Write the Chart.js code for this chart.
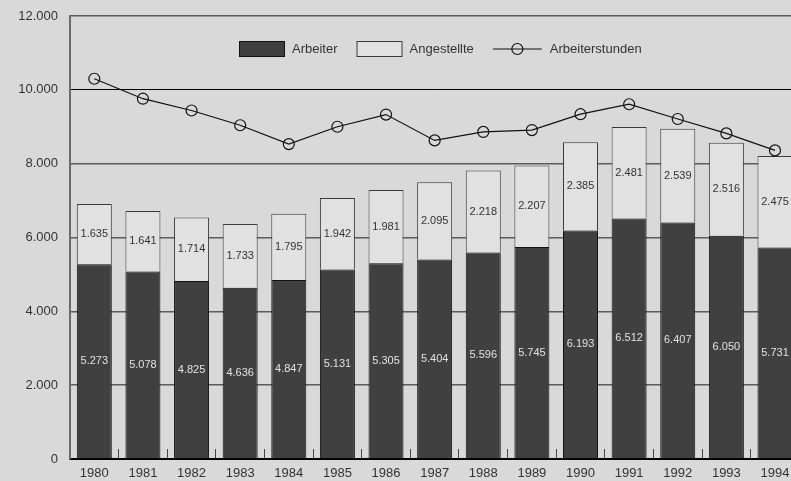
<!DOCTYPE html>
<html lang="de">
<head>
    <meta charset="UTF-8">
    <title>Arbeiter, Angestellte und Arbeiterstunden 1980–1994</title>
    <script src="https://cdn.jsdelivr.net/npm/chart.js"></script>
    <style>
        html, body { margin: 0; padding: 0; background: #d9d9d9; overflow: hidden; }
    </style>
</head>
<body>

<!-- breiter als das Fenster: die Vorlage ist rechts beschnitten -->
<canvas id="dataChart" width="806" height="481"></canvas>

<script>
    // Werte
    const years = ['1980', '1981', '1982', '1983', '1984', '1985', '1986', '1987',
                   '1988', '1989', '1990', '1991', '1992', '1993', '1994'];
    const arbeiter = [5273, 5078, 4825, 4636, 4847, 5131, 5305, 5404, 5596, 5745, 6193, 6512, 6407, 6050, 5731];
    const angestellte = [1635, 1641, 1714, 1733, 1795, 1942, 1981, 2095, 2218, 2207, 2385, 2481, 2539, 2516, 2475];
    const arbeiterstunden = [10300, 9760, 9440, 9040, 8530, 9000, 9330, 8630, 8860, 8910, 9340, 9610, 9210, 8820, 8360];
    const yTicks = [0, 2000, 4000, 6000, 8000, 10000, 12000];

    const FONT = '"Liberation Sans", Arial, sans-serif';

    // Tausenderpunkt wie in der Vorlage: 12.000
    function fmt(v) {
        return String(v).replace(/\B(?=(\d{3})+(?!\d))/g, '.');
    }

    // Zahlen mittig in die Balkensegmente schreiben
    const segmentLabels = {
        id: 'segmentLabels',
        afterDatasetsDraw(chart) {
            const ctx = chart.ctx;
            ctx.save();
            ctx.font = '11px ' + FONT;
            ctx.textAlign = 'center';
            ctx.textBaseline = 'middle';
            [0, 1].forEach(di => {
                const ds = chart.data.datasets[di];
                chart.getDatasetMeta(di).data.forEach((el, i) => {
                    ctx.fillStyle = ds.labelColor;
                    ctx.fillText(fmt(ds.data[i]), el.x, (el.y + el.base) / 2);
                });
            });
            ctx.restore();
        }
    };

    // Legende innerhalb der Zeichenfläche, oben
    const innerLegend = {
        id: 'innerLegend',
        afterDraw(chart) {
            const ctx = chart.ctx;
            const area = chart.chartArea;
            const ds = chart.data.datasets;
            const cy = area.top + 33;
            const boxW = 46, boxH = 16;
            let x = area.left + 169;
            ctx.save();
            ctx.font = '13px ' + FONT;
            ctx.textBaseline = 'middle';
            ctx.textAlign = 'left';
            [ds[0], ds[1]].forEach(d => {
                ctx.fillStyle = d.backgroundColor;
                ctx.fillRect(x, cy - boxH / 2, boxW, boxH);
                ctx.lineWidth = 1;
                ctx.strokeStyle = d.borderColor;
                ctx.strokeRect(x + 0.5, cy - boxH / 2 + 0.5, boxW - 1, boxH - 1);
                x += boxW + 7;
                ctx.fillStyle = '#333';
                ctx.fillText(d.label, x, cy);
                x += ctx.measureText(d.label).width + 19;
            });
            const line = ds[2];
            ctx.strokeStyle = line.borderColor;
            ctx.lineWidth = line.borderWidth;
            ctx.beginPath();
            ctx.moveTo(x, cy);
            ctx.lineTo(x + 49, cy);
            ctx.stroke();
            ctx.beginPath();
            ctx.arc(x + 24.5, cy, line.pointRadius, 0, Math.PI * 2);
            ctx.stroke();
            x += 49 + 8;
            ctx.fillStyle = '#333';
            ctx.fillText(line.label, x, cy);
            ctx.restore();
        }
    };

    new Chart(document.getElementById('dataChart'), {
        type: 'bar',
        data: {
            labels: years,
            datasets: [{
                label: 'Arbeiter',
                data: arbeiter,
                backgroundColor: '#404040',
                borderColor: '#111',
                borderWidth: 1,
                labelColor: '#e2e2e2',
                categoryPercentage: 0.72,
                barPercentage: 1,
                order: 1
            }, {
                label: 'Angestellte',
                data: angestellte,
                backgroundColor: '#e1e1e1',
                borderColor: '#3a3a3a',
                borderWidth: 1,
                labelColor: '#333',
                categoryPercentage: 0.72,
                barPercentage: 1,
                order: 1
            }, {
                type: 'line',
                label: 'Arbeiterstunden',
                data: arbeiterstunden,
                stack: 'stunden',
                borderColor: '#111',
                borderWidth: 1.2,
                tension: 0,
                pointRadius: 5.5,
                pointBorderWidth: 1.2,
                pointBorderColor: '#111',
                pointBackgroundColor: 'rgba(0,0,0,0)',
                order: 0
            }]
        },
        options: {
            responsive: false,
            animation: false,
            layout: { padding: { top: 16, right: 1, left: 0, bottom: 0 } },
            plugins: {
                legend: { display: false },
                tooltip: { enabled: false }
            },
            scales: {
                x: {
                    stacked: true,
                    grid: {
                        offset: true,
                        drawOnChartArea: false,
                        drawTicks: true,
                        tickLength: -10,
                        color: '#444',
                        lineWidth: 1
                    },
                    border: { color: '#000', width: 2 },
                    ticks: {
                        color: '#333',
                        font: { family: FONT, size: 13 },
                        padding: 17,
                        maxRotation: 0,
                        autoSkip: false
                    },
                    afterFit: s => {
                        s.height = 22;
                        s.paddingLeft = 0;
                        s.paddingRight = 0;
                    }
                },
                y: {
                    stacked: true,
                    min: 0,
                    max: 12000,
                    afterBuildTicks: s => { s.ticks = yTicks.map(v => ({ value: v })); },
                    grid: {
                        drawTicks: false,
                        color: c => (c.tick.value === 10000 || c.tick.value === 0) ? '#000' : '#5c5c5c',
                        lineWidth: c => c.tick.value === 10000 ? 1 : 1.5
                    },
                    border: { color: '#6a6a6a', width: 2 },
                    ticks: {
                        color: '#333',
                        font: { family: FONT, size: 13 },
                        padding: 12,
                        callback: v => fmt(v)
                    },
                    afterFit: s => {
                        s.width = 70;
                        s.paddingTop = 0;
                        s.paddingBottom = 0;
                    }
                }
            }
        },
        plugins: [segmentLabels, innerLegend]
    });
</script>

</body>
</html>
